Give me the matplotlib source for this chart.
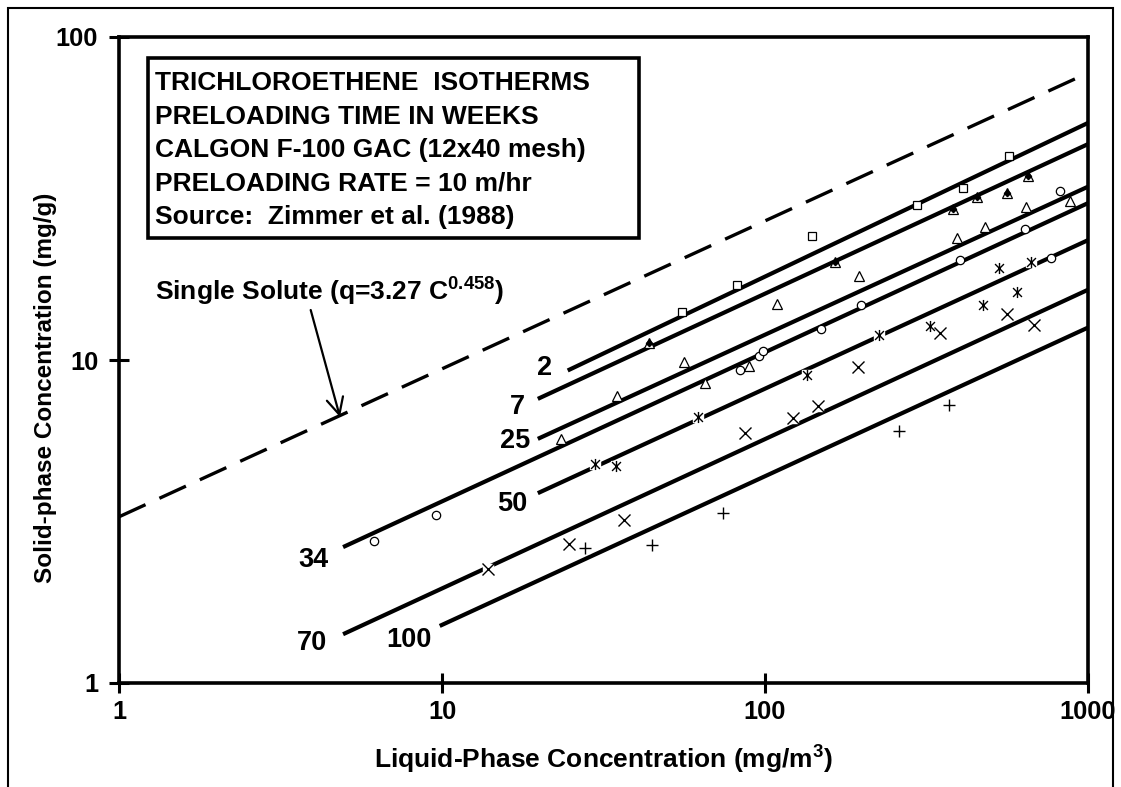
import matplotlib
matplotlib.use('Agg')
import matplotlib.pyplot as plt
from matplotlib.path import Path
from matplotlib.patches import Rectangle
from matplotlib.ticker import FixedLocator, FixedFormatter, NullLocator

plt.rcParams['font.family'] = ['Liberation Sans', 'DejaVu Sans']
plt.rcParams['font.weight'] = 'bold'
plt.rcParams['mathtext.fontset'] = 'custom'
plt.rcParams['mathtext.rm'] = 'Liberation Sans:bold'
plt.rcParams['mathtext.bf'] = 'Liberation Sans:bold'
plt.rcParams['mathtext.it'] = 'Liberation Sans:bold'

# preloading time in weeks, one fitted isotherm each
weeks = ['2', '7', '25', '34', '50', '70', '100']

# fitted isotherm lines, start and end points (C mg/m3, q mg/g)
line_c0 = [24.5, 19.8, 19.8, 4.94, 19.8, 4.94, 9.84]
line_q0 = [9.28, 7.58, 5.70, 2.635, 3.87, 1.416, 1.502]
line_c1 = [1000, 1000, 1000, 1000, 1000, 1000, 1000]
line_q1 = [54.2, 46.6, 34.4, 30.6, 23.5, 16.5, 12.6]

# single solute isotherm q = 3.27 C^0.458
single_c = [1, 1000]
single_q = [3.27, 77.4]

# measured data
w2_c = [55.4, 81.7, 139.8, 295.5, 411, 570]
w2_q = [14.1, 17.06, 24.2, 30.1, 33.96, 42.9]
w7_c = [43.7, 164.8, 380.7, 451.7, 563, 652.8]
w7_q = [11.25, 20.1, 29.4, 32.07, 32.8, 37.0]
w25_c = [23.4, 34.8, 56.2, 65.3, 89.5, 108.7, 195.9, 391.7, 479.6, 642, 878.5]
w25_q = [5.69, 7.76, 9.87, 8.50, 9.57, 14.86, 18.2, 23.9, 25.88, 29.86, 31.1]
w34_c = [6.18, 9.56, 83.4, 95.6, 98.4, 149.1, 198.3, 402.9, 637.6, 770.5, 818]
w34_q = [2.76, 3.32, 9.34, 10.27, 10.65, 12.5, 14.76, 20.45, 25.5, 20.7, 33.4]
w50_c = [29.7, 34.5, 62.2, 134.6, 225.9, 324, 473.8, 531, 602.5, 665.5]
w50_q = [4.78, 4.69, 6.65, 8.97, 11.91, 12.73, 14.79, 19.3, 16.27, 20.16]
w70_c = [13.88, 24.75, 36.6, 87.0, 122.4, 145.6, 193.6, 348, 563, 681.5]
w70_q = [2.257, 2.70, 3.19, 5.95, 6.62, 7.19, 9.51, 12.13, 13.9, 12.82]
w100_c = [27.7, 44.8, 74.0, 260.4, 370]
w100_q = [2.61, 2.68, 3.37, 6.02, 7.24]

tick_vals = [1, 10, 100, 1000]
tick_labels = ['1', '10', '100', '1000']

box_lines = ['TRICHLOROETHENE  ISOTHERMS',
             'PRELOADING TIME IN WEEKS',
             'CALGON F-100 GAC (12x40 mesh)',
             'PRELOADING RATE = 10 m/hr',
             'Source:  Zimmer et al. (1988)']

W, H = 1121, 787
fig = plt.figure(figsize=(W / 100, H / 100), dpi=100)
ax = fig.add_axes([119 / W, 1 - 683 / H, 969 / W, 646 / H])
ax.set_xscale('log')
ax.set_yscale('log')
ax.set_xlim(1, 1000)
ax.set_ylim(1, 100)

# dashed single solute line
ax.plot(single_c, single_q, color='black', lw=2.4,
        linestyle=(0, (21 / 2.4, 11 / 2.4)), zorder=2)

for i in range(len(weeks)):
    ax.plot([line_c0[i], line_c1[i]], [line_q0[i], line_q1[i]],
            color='black', lw=3, solid_capstyle='butt', zorder=2)

label_off = [(-16, 2), (-13, -8), (-8, -2), (-15, -13), (-10, -11), (-16, -9), (-8, -14)]
for i, w in enumerate(weeks):
    ax.annotate(w, xy=(line_c0[i], line_q0[i]), xytext=label_off[i],
                textcoords='offset pixels', ha='right', va='center',
                fontsize=19.5, fontweight='bold')

star = Path([(-1, -1), (1, 1), (-1, 1), (1, -1), (0, -1.25), (0, 1.25)],
            [Path.MOVETO, Path.LINETO] * 3)

open_kw = dict(linestyle='none', markerfacecolor='white', markeredgecolor='black',
               markeredgewidth=0.9, zorder=4)
ax.plot(w2_c, w2_q, marker='s', markersize=6, **open_kw)
ax.plot(w7_c, w7_q, marker='^', markersize=6.5, **open_kw)
ax.plot(w7_c, w7_q, marker='D', markersize=3.2, linestyle='none', color='black', zorder=5)
ax.plot(w25_c, w25_q, marker='^', markersize=7, **open_kw)
ax.plot(w34_c, w34_q, marker='o', markersize=6, **open_kw)

for cs, qs, mk in [(w50_c, w50_q, star), (w70_c, w70_q, 'x'), (w100_c, w100_q, '+')]:
    ax.plot(cs, qs, marker='s', markersize=7.5, linestyle='none', color='white', zorder=3)
    ax.plot(cs, qs, marker=mk, markersize=8, linestyle='none', color='black',
            markeredgewidth=1.0, zorder=4)

ax.xaxis.set_major_locator(FixedLocator(tick_vals))
ax.xaxis.set_major_formatter(FixedFormatter(tick_labels))
ax.yaxis.set_major_locator(FixedLocator(tick_vals[:3]))
ax.yaxis.set_major_formatter(FixedFormatter(tick_labels[:3]))
ax.xaxis.set_minor_locator(NullLocator())
ax.yaxis.set_minor_locator(NullLocator())
ax.tick_params(axis='both', which='major', direction='inout', length=14, width=2.2,
               labelsize=18.3)
ax.tick_params(axis='x', pad=5)
ax.tick_params(axis='y', pad=8)
for s in ax.spines.values():
    s.set_linewidth(2.6)
for lab in ax.get_xticklabels() + ax.get_yticklabels():
    lab.set_fontweight('bold')

ax.set_xlabel('Liquid-Phase Concentration (mg/m$^{\\mathbf{3}}$)', fontsize=19,
              fontweight='bold', va='center')
ax.xaxis.set_label_coords(0.5, (683 - 760) / 646)
ax.set_ylabel('Solid-phase Concentration (mg/g)', fontsize=17.5,
              fontweight='bold', va='center')
ax.yaxis.set_label_coords((46 - 119) / 969, (683 - 388) / 646)

# info box
fig.patches.append(Rectangle((148 / W, 1 - 238 / H), 491 / W, 180 / H,
                             transform=fig.transFigure, fill=False,
                             edgecolor='black', lw=2.6, zorder=5))
for k, t in enumerate(box_lines):
    fig.text(155 / W, 1 - (83 + 33.5 * k) / H, t, ha='left', va='center',
             fontsize=19, fontweight='bold')

# single solute label and arrow
fig.text(155 / W, 1 - 292 / H, 'Single Solute (q=3.27 C$^{\\mathbf{0.458}}$)',
         ha='left', va='center', fontsize=19, fontweight='bold')
ax.annotate('', xy=(340, H - 417), xycoords='figure pixels',
            xytext=(310.7, H - 310), textcoords='figure pixels',
            arrowprops=dict(arrowstyle='->', lw=1.6, color='black',
                            mutation_scale=30, shrinkA=0, shrinkB=0))

# outer frame
fig.patches.append(Rectangle((8 / W, -0.01), 1105 / W, 1 - 8 / H + 0.01,
                             transform=fig.transFigure, fill=False,
                             edgecolor='black', lw=1.5))

fig.savefig('out.png', dpi=100)
